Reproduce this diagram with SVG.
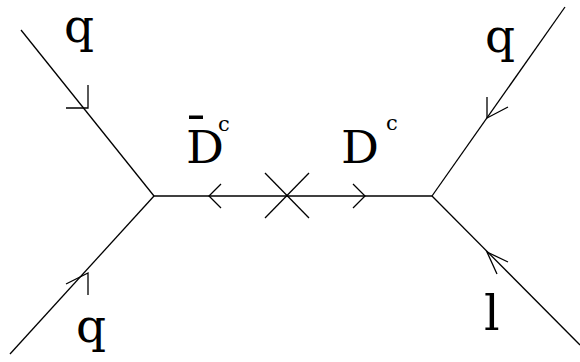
<svg xmlns="http://www.w3.org/2000/svg" width="580" height="362" viewBox="0 0 580 362">
<style>
.ln{fill:none;stroke:#000;stroke-width:1.3;stroke-linecap:butt;stroke-linejoin:miter}
text{font-family:'DejaVu Serif',serif;fill:#000}
</style>
<rect width="580" height="362" fill="#fff"/>
<g id="connectors">
<line class="ln" x1="21" y1="30" x2="154" y2="196"/>
<line class="ln" x1="10" y1="354" x2="154" y2="196"/>
<line class="ln" x1="154" y1="196" x2="432" y2="196"/>
<line class="ln" x1="565" y1="7" x2="432" y2="196"/>
<line class="ln" x1="432" y1="196" x2="580" y2="345"/>
<polyline class="ln" points="88,85 88,108 66,108"/>
<polyline class="ln" points="66,284 88,273 88,295"/>
<polyline class="ln" points="487,97 487,118 508,107"/>
<polyline class="ln" points="508,262 487,252 497,274"/>
<polyline class="ln" points="221,184 209,196 221,208"/>
<polyline class="ln" points="353,184 365,196 353,208"/>
<line class="ln" x1="265" y1="173" x2="309" y2="218"/>
<line class="ln" x1="265" y1="218" x2="309" y2="173"/>
</g>
<g id="q-top-left"><text x="64" y="42" font-size="47">q</text></g>
<g id="q-bottom-left"><text x="76" y="342" font-size="47">q</text></g>
<g id="q-top-right"><text x="485" y="52" font-size="47">q</text></g>
<g id="l-bottom-right"><text x="484" y="330" font-size="49">l</text></g>
<g id="Dbar-c">
<rect x="189" y="115.5" width="14" height="3.5" fill="#000"/>
<text x="186" y="163" font-size="45" textLength="38" lengthAdjust="spacingAndGlyphs">D</text>
<text x="218" y="131" font-size="21">c</text>
</g>
<g id="D-c">
<text x="341" y="163" font-size="45" textLength="38" lengthAdjust="spacingAndGlyphs">D</text>
<text x="386" y="130" font-size="21">c</text>
</g>
</svg>
